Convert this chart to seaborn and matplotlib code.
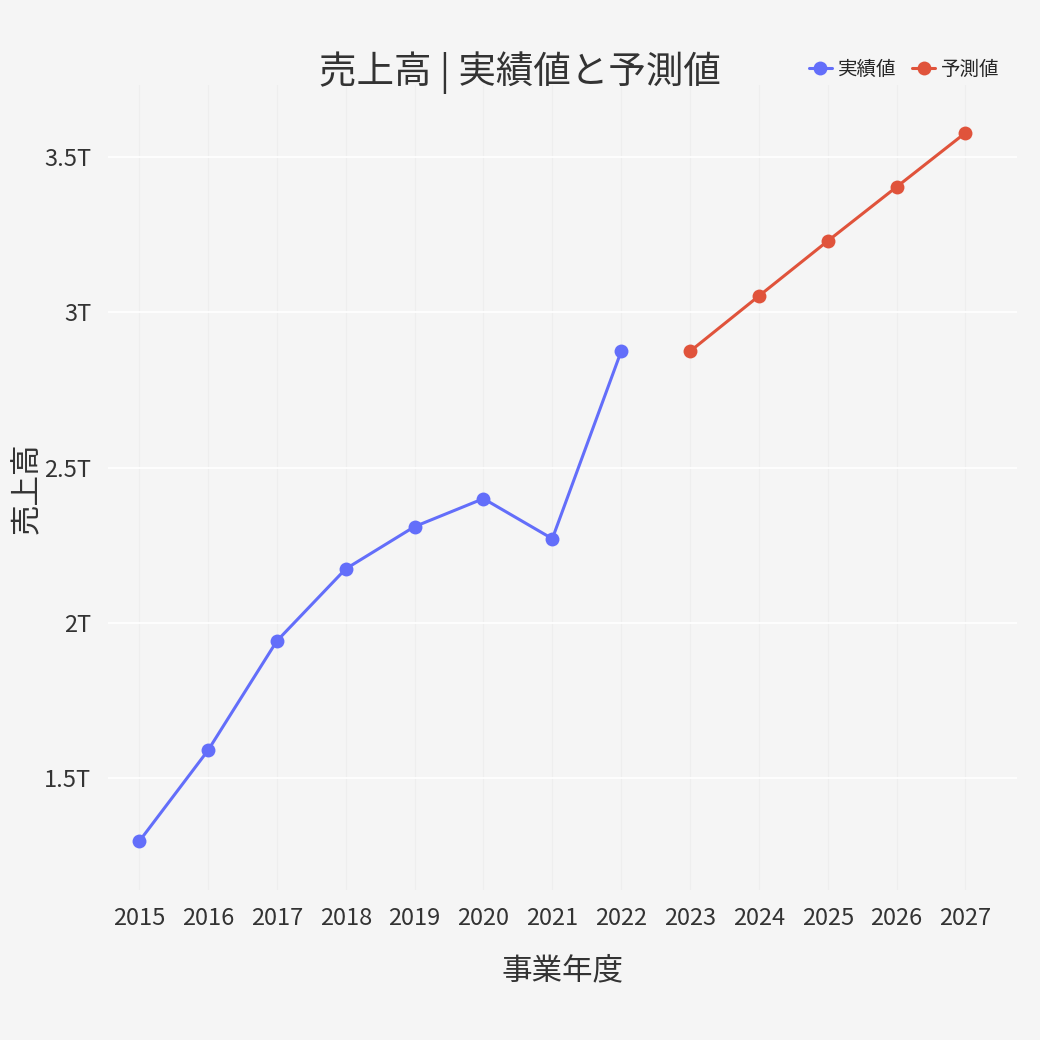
import matplotlib
matplotlib.use("Agg")
import matplotlib.pyplot as plt
import seaborn as sns
import pandas as pd
from matplotlib.ticker import FuncFormatter

actual_years = [2015, 2016, 2017, 2018, 2019, 2020, 2021, 2022]
actual_sales = [1.297e12, 1.59e12, 1.942e12, 2.174e12, 2.31e12, 2.40e12, 2.271e12, 2.874e12]
forecast_years = [2023, 2024, 2025, 2026, 2027]
forecast_sales = [2.874e12, 3.052e12, 3.229e12, 3.403e12, 3.577e12]
yticks = [1.5e12, 2e12, 2.5e12, 3e12, 3.5e12]

sns.set_style("whitegrid")
plt.rcParams['font.family'] = ['Noto Sans CJK JP', 'DejaVu Sans']
bg = "#f5f5f5"

df = pd.concat([
    pd.DataFrame({"年度": actual_years, "売上高": actual_sales, "系列": "実績値"}),
    pd.DataFrame({"年度": forecast_years, "売上高": forecast_sales, "系列": "予測値"}),
])

fig = plt.figure(figsize=(10.4, 10.4), dpi=100, facecolor=bg)
ax = fig.add_axes([0.104, 0.144, 0.874, 0.774])
ax.set_facecolor(bg)
sns.lineplot(data=df, x="年度", y="売上高", hue="系列", marker="o",
             palette={"実績値": "#636efa", "予測値": "#e0533b"},
             linewidth=2.2, markersize=10, markeredgewidth=0, ax=ax)

ax.set_xlim(2014.55, 2027.75)
ax.set_ylim(1.14e12, 3.73e12)
ax.set_xticks(actual_years + forecast_years)
ax.set_yticks(yticks)
ax.yaxis.set_major_formatter(FuncFormatter(lambda v, p: f"{v/1e12:g}T"))
ax.grid(color="white", linewidth=1.2)
ax.grid(axis="x", color="#eeeeee", linewidth=0.8)
for s in ax.spines.values():
    s.set_visible(False)
ax.tick_params(labelsize=17, colors="#333333", length=0, pad=12)
ax.set_xlabel("事業年度", fontsize=22, color="#333333", labelpad=18)
ax.set_ylabel("売上高", fontsize=22, color="#333333")
ax.yaxis.set_label_coords(-0.072, 0.5)
fig.text(0.5, 0.92, "売上高 | 実績値と予測値", ha="center", fontsize=27, color="#333333")
leg = ax.legend(loc="lower right", bbox_to_anchor=(1.0, 0.985), ncol=2, frameon=False,
                fontsize=14, handlelength=1.2, columnspacing=0.8, handletextpad=0.3)
fig.savefig("out.png", facecolor=bg)
